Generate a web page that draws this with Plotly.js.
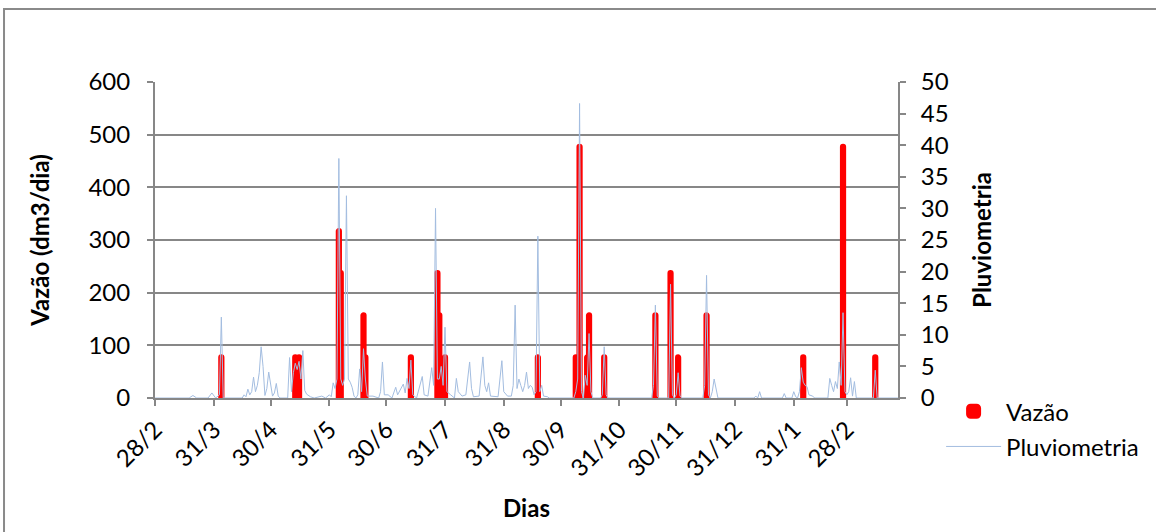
<!DOCTYPE html>
<html>
<head>
<meta charset="utf-8">
<script src="https://cdn.plot.ly/plotly-3.0.1.min.js"></script>
<style>
  html, body { margin: 0; padding: 0; background: #ffffff; }
  #chart { width: 1156px; height: 532px; }
</style>
</head>
<body>
<div id="chart"></div>
<script>
// ---- Data ----
const tickDates = ['2010-02-28','2010-03-31','2010-04-30','2010-05-31','2010-06-30','2010-07-31',
  '2010-08-31','2010-09-30','2010-10-31','2010-11-30','2010-12-31','2011-01-31','2011-02-28'];
const tickLabels = ['28/2','31/3','30/4','31/5','30/6','31/7','31/8','30/9','31/10','30/11','31/12','31/1','28/2'];

const flowDates = ['2010-04-04','2010-05-13','2010-05-15','2010-06-05','2010-06-06','2010-06-18','2010-06-19',
  '2010-07-13','2010-07-27','2010-07-28','2010-07-31','2010-09-18','2010-10-08','2010-10-10','2010-10-14',
  '2010-10-15','2010-10-23','2010-11-19','2010-11-27','2010-12-01','2010-12-16','2011-02-05','2011-02-26','2011-03-15'];
const flowValues = [80, 80, 80, 320, 240, 160, 80,
  80, 240, 160, 80, 80, 80, 480, 80,
  160, 80, 160, 240, 80, 160, 80, 480, 80];

const rainDates = ['2010-02-28','2010-03-18','2010-03-20','2010-03-22','2010-03-28','2010-03-30','2010-04-01','2010-04-03','2010-04-04','2010-04-05',
  '2010-04-15','2010-04-16','2010-04-17','2010-04-18','2010-04-19','2010-04-20','2010-04-21','2010-04-22','2010-04-23','2010-04-24',
  '2010-04-25','2010-04-26','2010-04-27','2010-04-28','2010-04-29','2010-04-30','2010-05-01','2010-05-02','2010-05-03','2010-05-04',
  '2010-05-05','2010-05-09','2010-05-10','2010-05-11','2010-05-12','2010-05-13','2010-05-14','2010-05-15','2010-05-16','2010-05-17',
  '2010-05-18','2010-05-19','2010-05-21','2010-05-23','2010-05-27','2010-05-29','2010-05-31','2010-06-01','2010-06-02','2010-06-03',
  '2010-06-04','2010-06-05','2010-06-06','2010-06-07','2010-06-08','2010-06-09','2010-06-10','2010-06-11','2010-06-12','2010-06-13',
  '2010-06-14','2010-06-15','2010-06-16','2010-06-17','2010-06-18','2010-06-19','2010-06-20','2010-06-23','2010-06-26','2010-06-27',
  '2010-06-28','2010-06-29','2010-07-01','2010-07-03','2010-07-05','2010-07-06','2010-07-09','2010-07-10','2010-07-11','2010-07-12',
  '2010-07-13','2010-07-14','2010-07-16','2010-07-19','2010-07-20','2010-07-22','2010-07-23','2010-07-24','2010-07-25','2010-07-26',
  '2010-07-27','2010-07-28','2010-07-29','2010-07-30','2010-07-31','2010-08-01','2010-08-03','2010-08-05','2010-08-06','2010-08-07',
  '2010-08-09','2010-08-11','2010-08-13','2010-08-14','2010-08-15','2010-08-18','2010-08-20','2010-08-21','2010-08-22','2010-08-23',
  '2010-08-24','2010-08-26','2010-08-28','2010-08-30','2010-08-31','2010-09-02','2010-09-04','2010-09-05','2010-09-06','2010-09-07',
  '2010-09-08','2010-09-09','2010-09-10','2010-09-11','2010-09-12','2010-09-13','2010-09-14','2010-09-15','2010-09-16','2010-09-17',
  '2010-09-18','2010-09-19','2010-09-20','2010-09-21','2010-09-23','2010-09-24','2010-10-07','2010-10-08','2010-10-09','2010-10-10',
  '2010-10-11','2010-10-12','2010-10-13','2010-10-14','2010-10-15','2010-10-16','2010-10-17','2010-10-21','2010-10-22','2010-10-23',
  '2010-10-24','2010-10-25','2010-11-17','2010-11-18','2010-11-19','2010-11-20','2010-11-21','2010-11-26','2010-11-27','2010-11-28',
  '2010-11-29','2010-11-30','2010-12-01','2010-12-02','2010-12-03','2010-12-14','2010-12-15','2010-12-16','2010-12-17','2010-12-18',
  '2010-12-19','2010-12-20','2010-12-21','2010-12-22','2011-01-10','2011-01-11','2011-01-12','2011-01-13','2011-01-14','2011-01-25',
  '2011-01-26','2011-01-27','2011-01-30','2011-01-31','2011-02-01','2011-02-02','2011-02-03','2011-02-04','2011-02-05','2011-02-06',
  '2011-02-07','2011-02-08','2011-02-10','2011-02-11','2011-02-18','2011-02-19','2011-02-20','2011-02-21','2011-02-22','2011-02-23',
  '2011-02-24','2011-02-25','2011-02-26','2011-02-27','2011-02-28','2011-03-01','2011-03-02','2011-03-03','2011-03-04','2011-03-05',
  '2011-03-14','2011-03-15','2011-03-16','2011-03-27'];
const rainValues = [0,0,0.4,0,0,0.8,0,0.5,12.8,0,
  0,0.5,0.2,1.4,0.5,1,3.3,1,2,4,
  8.1,5,0.4,1.5,4.1,2.5,0.3,0.8,2.3,0.3,
  0,0,6.4,1,4,5.5,4.5,5.8,3,7.5,
  1.2,0.6,0.2,0,0.3,0,0.5,0.2,2.4,1.5,
  3,37.9,3,2,3,32,3,2.5,1.7,0.3,
  0,0.5,4.6,1,7.8,3,0.3,0.3,0,1,
  5.7,0.5,0.5,0,1.7,0.5,2.2,0.8,3.1,1.5,
  6,0.5,0,3.4,0.5,0.3,2.3,4.8,2,30,
  3,3,5,2,11.2,1,0.5,0,3.1,1,
  0.3,0.5,5.7,1.5,0.2,0.3,6.5,2,1,2.4,
  0.3,0.3,0.2,5.9,1,0.3,0.3,2,14.7,1.5,
  3,2,1,2,4.1,1.5,2,1.7,0.5,1,
  25.6,1,2,0.3,0.2,0,0,1,3,46.6,
  1,0,3.6,2,10.2,1,0,0,0.5,8.1,
  0.5,0,0,2,14.7,0.3,0,0,18,0.5,
  0,0.5,4,0.3,0,0,2,19.4,0.5,0,
  1,3,1.5,0,0,0.3,0,1,0,0,
  0.7,0,0,1,0.2,0,1,4.8,2.5,2,
  1.8,0.5,0.3,0,0,3.1,2,1,2.6,1.5,
  5.7,2,13.5,1,0.5,1,3.2,0.3,2.6,0,
  0,4.4,0,0];

const xRange = ['2010-02-28', '2011-03-27'];

// ---- Styling ----
const FONT = 'Lato, "Open Sans", "DejaVu Sans", sans-serif';
const FS = 24;
const GRID = '#878787';
const DAY_MS = 86400000;

const traces = [
  {
    type: 'bar',
    name: 'Vazão',
    x: flowDates,
    y: flowValues,
    width: flowDates.map(() => 1.7 * DAY_MS),
    marker: { color: '#FF0000', line: { color: '#FF0000', width: 3 }, cornerradius: 2 },
    yaxis: 'y',
    legendgroup: 'a',
    hoverinfo: 'x+y'
  },
  {
    type: 'scatter',
    mode: 'lines',
    name: 'Pluviometria',
    x: rainDates,
    y: rainValues,
    line: { color: '#A3BDE0', width: 1 },
    yaxis: 'y2',
    legendgroup: 'b',
    hoverinfo: 'x+y'
  }
];

const layout = {
  width: 1156,
  height: 532,
  margin: { l: 155, r: 253, t: 82, b: 134, pad: 0 },
  paper_bgcolor: '#ffffff',
  plot_bgcolor: '#ffffff',
  font: { family: FONT, size: FS, color: '#000000' },
  barmode: 'overlay',
  showlegend: true,
  legend: {
    x: 1.058, xanchor: 'left',
    y: 0.028, yanchor: 'top',
    font: { family: FONT, size: FS, color: '#000000' },
    traceorder: 'grouped',
    tracegroupgap: 1,
    itemwidth: 55,
    bgcolor: 'rgba(0,0,0,0)'
  },
  xaxis: {
    type: 'date',
    range: xRange,
    tickmode: 'array',
    tickvals: tickDates,
    ticktext: tickLabels,
    tickangle: -45,
    ticks: 'outside',
    ticklen: 6,
    tickwidth: 2,
    tickcolor: GRID,
    showline: true,
    linecolor: GRID,
    linewidth: 2,
    showgrid: false,
    zeroline: false,
    tickfont: { family: FONT, size: FS },
    title: { text: '<b>Dias</b>', font: { family: FONT, size: FS }, standoff: 19 },
    automargin: false
  },
  yaxis: {
    range: [0, 600],
    dtick: 100,
    tick0: 0,
    ticks: 'outside',
    ticklen: 6,
    tickwidth: 2,
    tickcolor: GRID,
    showline: true,
    linecolor: GRID,
    linewidth: 2,
    showgrid: true,
    gridcolor: GRID,
    gridwidth: 2,
    zeroline: false,
    ticklabelstandoff: 12,
    tickfont: { family: FONT, size: FS },
    title: { text: '<b>Vazão (dm3/dia)</b>', font: { family: FONT, size: FS }, standoff: 32 },
    automargin: false
  },
  yaxis2: {
    overlaying: 'y',
    side: 'right',
    range: [0, 50],
    dtick: 5,
    tick0: 0,
    ticks: 'outside',
    ticklen: 6,
    tickwidth: 2,
    tickcolor: GRID,
    showline: true,
    linecolor: GRID,
    linewidth: 2,
    showgrid: false,
    zeroline: false,
    ticklabelstandoff: 10,
    tickfont: { family: FONT, size: FS },
    title: { text: '<b>Pluviometria</b>', font: { family: FONT, size: FS }, standoff: 26 },
    automargin: false
  },
  shapes: [
    {
      type: 'rect', xref: 'paper', yref: 'paper',
      x0: (3 - 155) / 748, x1: (1170 - 155) / 748,
      y0: (398 - 545) / 316, y1: (398 - 9) / 316,
      line: { color: '#8a8a8a', width: 2 },
      fillcolor: 'rgba(0,0,0,0)',
      layer: 'below'
    }
  ]
};

Plotly.newPlot('chart', traces, layout, { displayModeBar: false, staticPlot: true });
</script>
</body>
</html>
